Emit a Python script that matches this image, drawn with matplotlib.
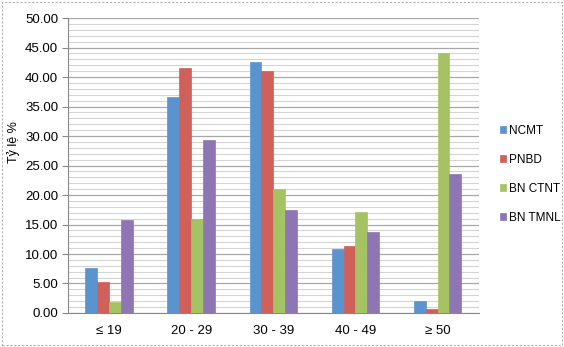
import numpy as np
import matplotlib
matplotlib.use("Agg")
import matplotlib.pyplot as plt
from matplotlib.patches import Rectangle
from matplotlib.ticker import MultipleLocator

# Dữ liệu
groups = ["≤ 19", "20 - 29", "30 - 39", "40 - 49", "≥ 50"]
ncmt = [7.7, 36.7, 42.6, 10.9, 2.0]
pnbd = [5.3, 41.6, 41.0, 11.4, 0.7]
ctnt = [1.8, 16.0, 21.0, 17.1, 44.0]
tmnl = [15.8, 29.3, 17.5, 13.8, 23.6]
series_names = ["NCMT", "PNBD", "BN CTNT", "BN TMNL"]
colors = ["#5B93CE", "#D0605A", "#A5C363", "#8E76B4"]

plt.rcParams['font.family'] = ['Liberation Sans', 'DejaVu Sans']

fig = plt.figure(figsize=(5.64, 3.47), dpi=100)
ax = fig.add_axes([0.1206, 0.098, 0.728, 0.850])

x = np.arange(len(groups))
w = 0.145
for i, (vals, name, c) in enumerate(zip([ncmt, pnbd, ctnt, tmnl], series_names, colors)):
    ax.bar(x + (i - 1.5) * w, vals, w, color=c, label=name, zorder=3,
           edgecolor=c, linewidth=0.5)

ax.set_xlim(-0.5, len(groups) - 0.5)
ax.set_ylim(0, 50)
ax.yaxis.set_minor_locator(MultipleLocator(1))
ax.set_yticks(np.arange(0, 55, 5))
ax.set_yticklabels([f"{v:.2f}" for v in np.arange(0, 55, 5)], fontsize=9.5)
ax.set_xticks(x)
ax.set_xticklabels(groups, fontsize=9.5)
ax.tick_params(axis='x', length=0, pad=9)
ax.tick_params(axis='y', which='major', length=4, color='#888888', pad=3)
ax.tick_params(axis='y', which='minor', length=0)

ax.grid(axis='y', which='major', color='#a8a8a8', linewidth=0.9, zorder=0)
ax.grid(axis='y', which='minor', color='#d4d4d4', linewidth=0.8, zorder=0)

for s in ['top', 'right']:
    ax.spines[s].set_visible(False)
ax.spines['left'].set_color('#888888')
ax.spines['bottom'].set_color('#888888')

ax.set_ylabel("Tỷ lệ %", fontsize=9, labelpad=8)
ax.yaxis.set_label_coords(-0.118, 0.58)

ax.legend(loc='center left', bbox_to_anchor=(1.04, 0.47), frameon=False,
          fontsize=8.5, handlelength=0.55, handleheight=0.55, labelspacing=1.45,
          handletextpad=0.25, borderaxespad=0.0)

# viền nét đứt quanh khung
fig.patches.append(Rectangle((0.003, 0.005), 0.994, 0.99, transform=fig.transFigure,
                             fill=False, edgecolor='#b0b0b0', linestyle=(0, (2, 1.5)),
                             linewidth=0.8))

fig.savefig("out.png", dpi=100)
